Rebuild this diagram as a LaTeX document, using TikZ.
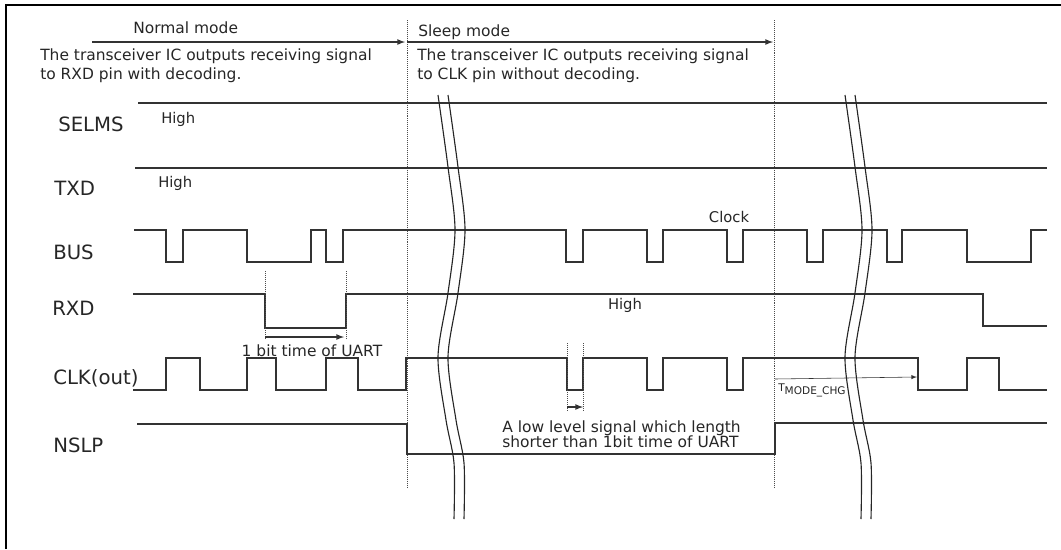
\documentclass[tikz,border=0pt]{standalone}
\usepackage{fontspec}
\setmainfont{DejaVu Sans}

\begin{document}
\begin{tikzpicture}[x=0.025cm,y=-0.025cm,
    sig/.style={line width=0.9pt,black!80},
    guide/.style={densely dotted,thin,black!70},
    brk/.style={line width=0.8pt,black!85},
    signame/.style={font=\fontsize{14}{14}\selectfont,anchor=west,inner sep=0pt,black!85},
    note/.style={font=\fontsize{10.5}{12}\selectfont,inner sep=0pt,black!85},
    txt/.style={font=\fontsize{11}{13.5}\selectfont,align=left,anchor=west,inner sep=0pt,black!85}]
        \useasboundingbox (0,0) rectangle (1061,549);
        \draw[line width=1pt] (6,549) -- (6,5) -- (1061,5);

        % modes
        \draw[guide] (407,20) -- (407,487);
        \draw[guide] (774,20) -- (774,487);
        \draw[sig,-latex] (92,42) -- (405,42);
        \draw[sig,-latex] (407,42) -- (773,42);
        \node[txt] (normal) at (133,28) {Normal mode};
        \node[txt] (sleep) at (418,32) {Sleep mode};
        \node[txt] (normaltxt) at (40,66) {The transceiver IC outputs receiving signal\\to RXD pin with decoding.};
        \node[txt] (sleeptxt) at (417,66) {The transceiver IC outputs receiving signal\\to CLK pin without decoding.};

        % SELMS, TXD
        \node[signame] (selms) at (58,124) {SELMS};
        \draw[sig] (138,103) -- (1047,103);
        \node[note,anchor=west] (selmshigh) at (161,119) {High};
        \node[signame] (txd) at (54,188) {TXD};
        \draw[sig] (135,168) -- (1047,168);
        \node[note,anchor=west] (txdhigh) at (158,183) {High};

        % BUS
        \node[signame] (bus) at (53,252) {BUS};
        \draw[sig] (134,230) \foreach \a/\b in {166/183,247/311,326/343,566/583,647/663,727/743,807/823,887/902,967/1031} {
          -- (\a,230) -- (\a,262) -- (\b,262) -- (\b,230)} -- (1047,230);
        \node[note] (clock) at (729,217) {Clock};

        % RXD
        \node[signame] (rxd) at (52,308) {RXD};
        \draw[sig] (133,294) -- (265,294) -- (265,328) -- (346,328) -- (346,294) -- (983,294) -- (983,326) -- (1047,326);
        \node[note] (rxdhigh) at (625,305) {High};
        \draw[guide] (265,271) -- (265,339);
        \draw[guide] (346,271) -- (346,339);
        \draw[sig,-latex] (265,337) -- (344,337);
        \node[txt,anchor=center] (bittime) at (312,351) {1 bit time of UART};

        % CLK(out)
        \node[signame] (clk) at (53,378) {CLK(out)};
        \draw[sig] (133,390) \foreach \a/\b in {166/200,247/276,326/358} {
          -- (\a,390) -- (\a,358) -- (\b,358) -- (\b,390)} -- (406,390) -- (406,358)
          \foreach \a/\b in {567/583,647/663,727/743,918/967} {
          -- (\a,358) -- (\a,390) -- (\b,390) -- (\b,358)} -- (999,358) -- (999,390) -- (1047,390);
        \draw[guide] (567,343) -- (567,411);
        \draw[guide] (583,343) -- (583,411);
        \draw[sig,-latex] (567,407) -- (583,407);
        \node[txt,font=\fontsize{11}{10.7}\selectfont] (shortlow) at (502,434) {A low level signal which length\\shorter than 1bit time of UART};
        \draw[thin,black!80,-latex] (775,379) -- (917,377);
        \node[txt,font=\fontsize{7.5}{8}\selectfont] (tmode) at (778,390) {T\raisebox{-2pt}{MODE\_CHG}};

        % NSLP
        \node[signame] (nslp) at (53,445) {NSLP};
        \draw[sig] (137,424) -- (407,424) -- (407,454) -- (775,454) -- (775,423) -- (1047,423);

        % breaks
        \foreach \bx in {0,407} {
          \foreach \dx in {0,10} {
            \draw[brk] plot[smooth] coordinates {({438+\bx+\dx},95) ({448+\bx+\dx},167) ({455+\bx+\dx},230) ({448+\bx+\dx},293)
              ({438+\bx+\dx},357) ({446+\bx+\dx},420) ({454+\bx+\dx},463) ({454+\bx+\dx},519)};
          }
        }
\end{tikzpicture}
\end{document}
